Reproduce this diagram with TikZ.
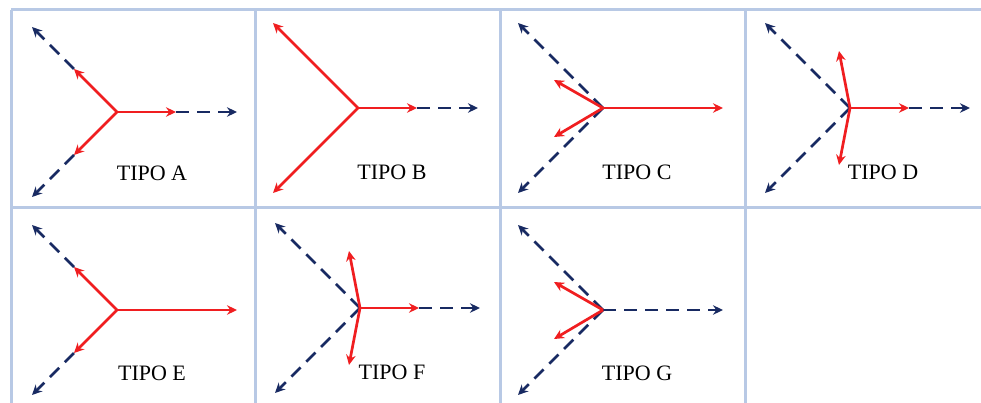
\documentclass[tikz,border=0pt]{standalone}
\usepackage{fontspec}
\setmainfont{Liberation Serif}
\usetikzlibrary{arrows.meta}
\definecolor{gridblue}{RGB}{184,201,229}
\definecolor{navy}{RGB}{24,42,98}
\definecolor{vred}{RGB}{240,30,32}
\tikzset{
  gridline/.style={draw=gridblue,line width=3pt},
  redvec/.style={draw=vred,line width=2.7pt,-{Stealth[length=10pt,width=9.5pt]}},
  bluevec/.style={draw=navy,line width=2.7pt,dash pattern=on 13pt off 8pt,-{Stealth[length=10pt,width=9.5pt]}},
  tipolabel/.style={font=\fontsize{22}{24}\selectfont,inner sep=0pt}
}
\begin{document}
\begin{tikzpicture}[x=1pt,y=-1pt]
\useasboundingbox (0,0) rectangle (981,403);
\fill[white] (0,0) rectangle (981,403);

% table rules
\draw[gridline] (11,10) -- (981,10);
\draw[gridline] (11,208) -- (981,208);
\foreach \gx in {11,255,500,745} \draw[gridline] (\gx,10) -- (\gx,403);

% reference points of every cell: centre and arrow ends
\foreach \n/\cx/\cy in {A/117/112,B/358/108,C/603/108,D/850/108,E/117/310,F/360/308,G/603/310}{
  \coordinate (\n-c)  at (\cx,\cy);
  \coordinate (\n-ul) at (\cx-85,\cy-85);   % long upper-left
  \coordinate (\n-dl) at (\cx-85,\cy+85);   % long lower-left
  \coordinate (\n-hu) at (\cx-43,\cy-43);   % half upper-left
  \coordinate (\n-hd) at (\cx-43,\cy+43);   % half lower-left
  \coordinate (\n-su) at (\cx-49,\cy-28);   % short upper-left
  \coordinate (\n-sd) at (\cx-49,\cy+29);   % short lower-left
  \coordinate (\n-vu) at (\cx-11,\cy-57);   % near-vertical up
  \coordinate (\n-vd) at (\cx-11,\cy+57);   % near-vertical down
  \coordinate (\n-hr) at (\cx+59,\cy);      % half right
  \coordinate (\n-fr) at (\cx+120,\cy);     % full right
}

% TIPO A
\draw[bluevec] (A-hu) -- (A-ul);
\draw[bluevec] (A-hd) -- (A-dl);
\draw[bluevec] (A-hr) -- (A-fr);
\draw[redvec] (A-c) -- (A-hu);
\draw[redvec] (A-c) -- (A-hd);
\draw[redvec] (A-c) -- (A-hr);
\node[tipolabel] (tA) at (152,173) {TIPO A};

% TIPO B
\draw[bluevec] (B-hr) -- (B-fr);
\draw[redvec] (B-c) -- (B-ul);
\draw[redvec] (B-c) -- (B-dl);
\draw[redvec] (B-c) -- (B-hr);
\node[tipolabel] (tB) at (392,172) {TIPO B};

% TIPO C
\draw[bluevec] (C-c) -- (C-ul);
\draw[bluevec] (C-c) -- (C-dl);
\draw[redvec] (C-c) -- (C-su);
\draw[redvec] (C-c) -- (C-sd);
\draw[redvec] (C-c) -- (C-fr);
\node[tipolabel] (tC) at (637,172) {TIPO C};

% TIPO D
\draw[bluevec] (D-c) -- (D-ul);
\draw[bluevec] (D-c) -- (D-dl);
\draw[bluevec] (D-hr) -- (D-fr);
\draw[redvec] (D-c) -- (D-vu);
\draw[redvec] (D-c) -- (D-vd);
\draw[redvec] (D-c) -- (D-hr);
\node[tipolabel] (tD) at (883,172) {TIPO D};

% TIPO E
\draw[bluevec] (E-hu) -- (E-ul);
\draw[bluevec] (E-hd) -- (E-dl);
\draw[redvec] (E-c) -- (E-hu);
\draw[redvec] (E-c) -- (E-hd);
\draw[redvec] (E-c) -- (E-fr);
\node[tipolabel] (tE) at (152,373) {TIPO E};

% TIPO F
\draw[bluevec] (F-c) -- (F-ul);
\draw[bluevec] (F-c) -- (F-dl);
\draw[bluevec] (F-hr) -- (F-fr);
\draw[redvec] (F-c) -- (F-vu);
\draw[redvec] (F-c) -- (F-vd);
\draw[redvec] (F-c) -- (F-hr);
\node[tipolabel] (tF) at (392,372) {TIPO F};

% TIPO G
\draw[bluevec] (G-c) -- (G-ul);
\draw[bluevec] (G-c) -- (G-dl);
\draw[bluevec] (G-c) -- (G-fr);
\draw[redvec] (G-c) -- (G-su);
\draw[redvec] (G-c) -- (G-sd);
\node[tipolabel] (tG) at (637,373) {TIPO G};
\end{tikzpicture}
\end{document}
